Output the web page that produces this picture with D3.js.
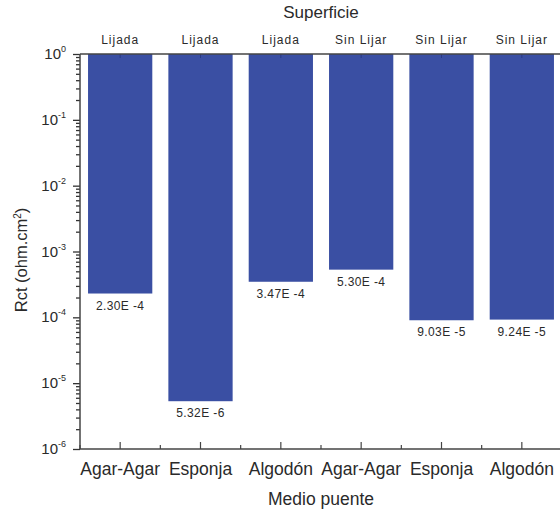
<!DOCTYPE html>
<html>
<head>
<meta charset="utf-8">
<script src="https://cdn.jsdelivr.net/npm/d3@7"></script>
<style>
  body { margin: 0; background: #fff; }
  text { font-family: "Liberation Sans", Arial, sans-serif; fill: #2a2a2a; }
</style>
</head>
<body>
<svg id="chart"></svg>
<script>
let width = 560, height = 513
let margin = {top: 54, left: 80, bottom: 449}
let plotRight = 562

// data
let medios = ['Agar-Agar', 'Esponja', 'Algodón', 'Agar-Agar', 'Esponja', 'Algodón']
let superficie = ['Lijada', 'Lijada', 'Lijada', 'Sin Lijar', 'Sin Lijar', 'Sin Lijar']
let rct = [2.30e-4, 5.32e-6, 3.47e-4, 5.30e-4, 9.03e-5, 9.24e-5]
let yTickExp = [0, -1, -2, -3, -4, -5, -6]

let svg = d3.select('#chart').attr('width', width).attr('height', height)

let x = d3.scaleBand()
  .domain(d3.range(medios.length))
  .range([margin.left, plotRight])
  .paddingInner(0.2).paddingOuter(0.1)

let y = d3.scaleLog()
  .domain([1e-6, 1])
  .range([margin.bottom, margin.top])

// bars hang from the top of the axis
svg.append('g').selectAll('rect').data(rct)
  .enter().append('rect')
  .attr('x', (d, i) => x(i))
  .attr('y', y(1))
  .attr('width', x.bandwidth())
  .attr('height', d => y(d) - y(1))
  .attr('fill', '#3a4fa3')

// little top ticks over the bars
svg.append('g').selectAll('line').data(rct)
  .enter().append('line')
  .attr('x1', (d, i) => x(i) + x.bandwidth() / 2)
  .attr('x2', (d, i) => x(i) + x.bandwidth() / 2)
  .attr('y1', y(1)).attr('y2', y(1) + 4)
  .attr('stroke', '#2a3a85').attr('stroke-width', 1)

// value labels
let fmt = v => {
  let e = Math.floor(Math.log10(v))
  return (v / Math.pow(10, e)).toFixed(2) + 'E -' + Math.abs(e)
}
svg.append('g').selectAll('text').data(rct)
  .enter().append('text')
  .attr('x', (d, i) => x(i) + x.bandwidth() / 2)
  .attr('y', d => y(d) + 16)
  .attr('text-anchor', 'middle')
  .style('font-size', '12px')
  .style('letter-spacing', '0.4px')
  .text(d => fmt(d))

// surface labels on top
svg.append('g').selectAll('text').data(superficie)
  .enter().append('text')
  .attr('x', (d, i) => x(i) + x.bandwidth() / 2)
  .attr('y', 44)
  .attr('text-anchor', 'middle')
  .style('font-size', '12px')
  .style('letter-spacing', '1px')
  .text(d => d)

svg.append('text')
  .attr('x', (margin.left + plotRight) / 2).attr('y', 18)
  .attr('text-anchor', 'middle')
  .style('font-size', '17px')
  .text('Superficie')

// top frame line
svg.append('line')
  .attr('x1', margin.left).attr('x2', plotRight)
  .attr('y1', y(1)).attr('y2', y(1))
  .attr('stroke', '#444').attr('stroke-width', 1.5)

// x axis: ticks pointing up, long at centers, short between
let xAxis = svg.append('g')
xAxis.append('line')
  .attr('x1', margin.left).attr('x2', plotRight)
  .attr('y1', y(1e-6)).attr('y2', y(1e-6))
  .attr('stroke', '#444').attr('stroke-width', 1.5)
let step = x.step()
let edges = d3.range(medios.length + 1).map(i => margin.left + i * step)
xAxis.selectAll('line.xminor').data(edges).enter().append('line')
  .attr('class', 'xminor')
  .attr('x1', d => d).attr('x2', d => d)
  .attr('y1', y(1e-6)).attr('y2', y(1e-6) - 4)
  .attr('stroke', '#444').attr('stroke-width', 1.2)
xAxis.selectAll('line.xmajor').data(medios).enter().append('line')
  .attr('class', 'xmajor')
  .attr('x1', (d, i) => x(i) + x.bandwidth() / 2).attr('x2', (d, i) => x(i) + x.bandwidth() / 2)
  .attr('y1', y(1e-6)).attr('y2', y(1e-6) - 7)
  .attr('stroke', '#444').attr('stroke-width', 1.2)
xAxis.selectAll('text').data(medios).enter().append('text')
  .attr('x', (d, i) => x(i) + x.bandwidth() / 2)
  .attr('y', 475)
  .attr('text-anchor', 'middle')
  .style('font-size', '17.5px')
  .text(d => d)

svg.append('text')
  .attr('x', (margin.left + plotRight) / 2).attr('y', 505)
  .attr('text-anchor', 'middle')
  .style('font-size', '17.5px')
  .text('Medio puente')

// y axis with log minor ticks, drawn by d3.axisLeft
let minor = y.ticks(100).filter(t => Math.abs(Math.log10(t) - Math.round(Math.log10(t))) > 1e-6)
let yMinorAxis = d3.axisLeft(y).tickValues(minor).tickSize(4).tickFormat('')
let yMajorAxis = d3.axisLeft(y).tickValues(yTickExp.map(e => Math.pow(10, e))).tickSize(7).tickFormat('')
let gMinor = svg.append('g').attr('transform', `translate(${margin.left},0)`).call(yMinorAxis)
let gMajor = svg.append('g').attr('transform', `translate(${margin.left},0)`).call(yMajorAxis)
;[gMinor, gMajor].forEach(g => {
  g.select('.domain').remove()
  g.selectAll('.tick line').attr('stroke', '#333').attr('stroke-width', 1.3)
})
svg.append('line')
  .attr('x1', margin.left).attr('x2', margin.left)
  .attr('y1', y(1)).attr('y2', y(1e-6))
  .attr('stroke', '#444').attr('stroke-width', 1.5)

let yl = svg.append('g').selectAll('text').data(yTickExp).enter().append('text')
  .attr('x', 66)
  .attr('y', d => y(Math.pow(10, d)) + 5)
  .attr('text-anchor', 'end')
  .style('font-size', '15px')
yl.append('tspan').text('10')
yl.append('tspan').attr('dy', -7).style('font-size', '9px').text(d => d)

let yLab = svg.append('text')
  .attr('transform', 'translate(27,260) rotate(-90)')
  .attr('text-anchor', 'middle')
  .style('font-size', '16.5px')
yLab.append('tspan').text('Rct (ohm.cm')
yLab.append('tspan').attr('dy', -6).style('font-size', '10px').text('2')
yLab.append('tspan').attr('dy', 6).text(')')
</script>
</body>
</html>
